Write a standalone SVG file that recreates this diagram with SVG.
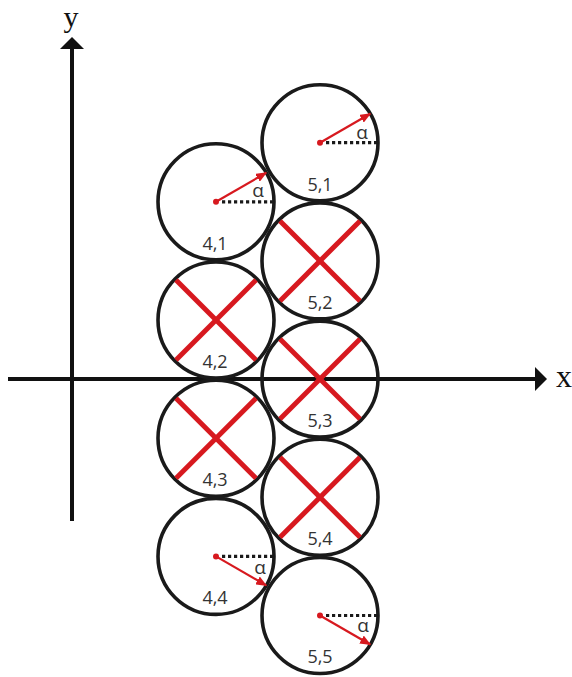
<svg xmlns="http://www.w3.org/2000/svg" width="572" height="677" viewBox="0 0 572 677">
<defs>
<style>
.c{fill:none;stroke:#1a1a1a;stroke-width:3.6}
.x{stroke:#d7191f;stroke-width:5;stroke-linecap:butt}
.r{stroke:#d7191f;stroke-width:2.2;marker-end:url(#ah)}
.d{fill:#d7191f}
.dash{stroke:#1a1a1a;stroke-width:3.2;stroke-dasharray:3.2 2.8}
.lb{font-family:"Open Sans","Noto Sans",sans-serif;font-size:18px;fill:#333;text-anchor:middle}
.al{font-family:"Open Sans","Noto Sans",sans-serif;font-size:19px;fill:#333;text-anchor:middle}
.ax{stroke:#111;stroke-width:4}
.axl{font-family:"Liberation Serif",serif;font-size:32px;fill:#111}
</style>
<marker id="ah" markerUnits="userSpaceOnUse" markerWidth="11" markerHeight="9" refX="10" refY="4.5" orient="auto">
<path d="M0,0 L11,4.5 L0,9 z" fill="#d7191f"/>
</marker>
</defs>
<g id="axes">
<line class="ax" x1="72" y1="521" x2="72" y2="47"/>
<polygon points="72,37 60,49 84,49" fill="#111"/>
<line class="ax" x1="8" y1="379" x2="537" y2="379"/>
<polygon points="547,379 535,367 535,391" fill="#111"/>
<text class="axl" x="71" y="27" text-anchor="middle" style="font-size:30px">y</text>
<text class="axl" x="556" y="387">x</text>
</g>
<g id="n51">
<circle class="c" cx="320" cy="142.7" r="58"/>
<line class="dash" x1="326" y1="142.7" x2="378" y2="142.7"/>
<line class="r" x1="320" y1="142.7" x2="370.2" y2="113.7"/>
<circle class="d" cx="320" cy="142.7" r="3"/>
<text class="al" x="362" y="139">α</text>
<text class="lb" x="320" y="191">5,1</text>
</g>
<g id="n41">
<circle class="c" cx="216" cy="201.8" r="58"/>
<line class="dash" x1="222" y1="201.8" x2="274" y2="201.8"/>
<line class="r" x1="216" y1="201.8" x2="266.2" y2="172.8"/>
<circle class="d" cx="216" cy="201.8" r="3"/>
<text class="al" x="258" y="197">α</text>
<text class="lb" x="215" y="250">4,1</text>
</g>
<g id="n52">
<circle class="c" cx="320" cy="260.9" r="58"/>
<line class="x" x1="280" y1="220.9" x2="360" y2="300.9"/>
<line class="x" x1="360" y1="220.9" x2="280" y2="300.9"/>
<text class="lb" x="320" y="309">5,2</text>
</g>
<g id="n42">
<circle class="c" cx="216" cy="320" r="58"/>
<line class="x" x1="176" y1="280" x2="256" y2="360"/>
<line class="x" x1="256" y1="280" x2="176" y2="360"/>
<text class="lb" x="215" y="368">4,2</text>
</g>
<g id="n53">
<circle class="c" cx="320" cy="379.1" r="58"/>
<line class="x" x1="280" y1="339.1" x2="360" y2="419.1"/>
<line class="x" x1="360" y1="339.1" x2="280" y2="419.1"/>
<text class="lb" x="320" y="427">5,3</text>
</g>
<g id="n43">
<circle class="c" cx="216" cy="438.2" r="58"/>
<line class="x" x1="176" y1="398.2" x2="256" y2="478.2"/>
<line class="x" x1="256" y1="398.2" x2="176" y2="478.2"/>
<text class="lb" x="215" y="486">4,3</text>
</g>
<g id="n54">
<circle class="c" cx="320" cy="497.3" r="58"/>
<line class="x" x1="280" y1="457.3" x2="360" y2="537.3"/>
<line class="x" x1="360" y1="457.3" x2="280" y2="537.3"/>
<text class="lb" x="320" y="545">5,4</text>
</g>
<g id="n44">
<circle class="c" cx="216" cy="556.4" r="58"/>
<line class="dash" x1="222" y1="556.4" x2="274" y2="556.4"/>
<line class="r" x1="216" y1="556.4" x2="266.2" y2="585.4"/>
<circle class="d" cx="216" cy="556.4" r="3"/>
<text class="al" x="260" y="574">α</text>
<text class="lb" x="215" y="604">4,4</text>
</g>
<g id="n55">
<circle class="c" cx="320" cy="615.5" r="58"/>
<line class="dash" x1="326" y1="615.5" x2="378" y2="615.5"/>
<line class="r" x1="320" y1="615.5" x2="370.2" y2="644.5"/>
<circle class="d" cx="320" cy="615.5" r="3"/>
<text class="al" x="363" y="632">α</text>
<text class="lb" x="320" y="663">5,5</text>
</g>
</svg>
